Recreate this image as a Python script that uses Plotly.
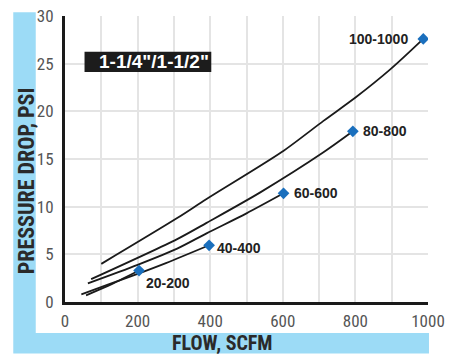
import plotly.graph_objects as go

# flow (SCFM) / pressure drop (PSI), one curve per regulator range
labels = ["100-1000", "80-800", "60-600", "40-400", "20-200"]

flow_100_1000 = [100, 309, 390, 596, 712, 802, 896, 987]
psi_100_1000 = [4.0, 8.8, 10.8, 15.7, 19.0, 21.5, 24.4, 27.6]

flow_80_800 = [72, 309, 390, 538, 712, 793]
psi_80_800 = [2.4, 6.6, 8.3, 11.5, 15.7, 17.9]

flow_60_600 = [63, 200, 309, 390, 500, 602]
psi_60_600 = [1.96, 3.9, 5.6, 7.2, 9.3, 11.4]

flow_40_400 = [45, 120, 200, 278, 397]
psi_40_400 = [0.8, 1.85, 2.95, 4.08, 5.95]

flow_20_200 = [58, 130, 204]
psi_20_200 = [0.7, 1.9, 3.3]

x_ticks = [0, 200, 400, 600, 800, 1000]
y_ticks = [0, 5, 10, 15, 20, 25, 30]

title_text = '1-1/4"/1-1/2"'

curves = [
    (flow_100_1000, psi_100_1000),
    (flow_80_800, psi_80_800),
    (flow_60_600, psi_60_600),
    (flow_40_400, psi_40_400),
    (flow_20_200, psi_20_200),
]
# where the label sits next to its end marker (pixels)
label_pos = [
    dict(xanchor="right", xshift=-13, yshift=0),
    dict(xanchor="left", xshift=8, yshift=0),
    dict(xanchor="left", xshift=8, yshift=0),
    dict(xanchor="left", xshift=6, yshift=-3),
    dict(xanchor="left", xshift=5, yshift=-12),
]

BLUE_BG = "#9cdbf6"
MARKER = "#1a6fbd"
TICK_FONT = "Liberation Sans Narrow, Roboto Condensed, DejaVu Sans Condensed, sans-serif"

fig = go.Figure()

for (xs, ys), name, pos in zip(curves, labels, label_pos):
    fig.add_trace(go.Scatter(x=xs, y=ys, mode="lines",
                             line=dict(color="#1a1a1a", width=1.8, shape="spline", smoothing=0.8),
                             hoverinfo="skip", showlegend=False))
    fig.add_trace(go.Scatter(x=[xs[-1]], y=[ys[-1]], mode="markers",
                             marker=dict(symbol="diamond", size=9, color=MARKER),
                             name=name, showlegend=False))
    fig.add_annotation(x=xs[-1], y=ys[-1], text="<b>%s</b>" % name, showarrow=False,
                       font=dict(family="Liberation Sans, Arial, sans-serif", size=14, color="#222222"),
                       yanchor="middle", **pos)

# blue frame behind the plot, white card on top of it
fig.add_shape(type="rect", xref="paper", yref="paper", x0=-0.1425, x1=1.0027, y0=-0.18, y1=1.0135,
              fillcolor=BLUE_BG, line_width=0, layer="below")
fig.add_shape(type="rect", xref="paper", yref="paper", x0=-0.0806, x1=1.05, y0=-0.108, y1=1.05,
              fillcolor="white", line_width=0, layer="below")

# size label box
fig.add_shape(type="rect", xref="paper", yref="paper", x0=0.0538, x1=0.403, y0=0.804, y1=0.875,
              fillcolor="#1c1c1c", line_width=0)
fig.add_annotation(xref="paper", yref="paper", x=0.2446, y=0.8395, text="<b>%s</b>" % title_text,
                   showarrow=False, font=dict(family="Liberation Sans, Arial, sans-serif", size=19, color="white"),
                   xanchor="center", yanchor="middle")

# axis titles
fig.add_annotation(xref="paper", yref="paper", x=-0.1075, y=0.4257, text="<b>PRESSURE DROP, PSI</b>",
                   textangle=-90, showarrow=False, xanchor="center", yanchor="middle",
                   font=dict(family=TICK_FONT, size=22, color="#2a2a2a"))
fig.add_annotation(xref="paper", yref="paper", x=0.4328, y=-0.143, text="<b>FLOW, SCFM</b>",
                   showarrow=False, xanchor="center", yanchor="middle",
                   font=dict(family=TICK_FONT, size=20, color="#2a2a2a"))

fig.update_layout(
    width=451, height=354,
    margin=dict(l=65, r=14, t=6, b=52),
    paper_bgcolor="white", plot_bgcolor="rgba(0,0,0,0)",
    xaxis=dict(range=[0, 1000], tickvals=x_ticks, showgrid=True, gridcolor="#e4e4e4", gridwidth=1.5,
               minor=dict(dtick=100, showgrid=True, gridcolor="#e4e4e4", gridwidth=1.5),
               showline=True, linecolor="#1a1a1a", linewidth=3, zeroline=False,
               ticks="", ticklabelstandoff=2, ticklabeloverflow="allow",
               tickfont=dict(family=TICK_FONT, size=17, color="#555555")),
    yaxis=dict(range=[0, 30], tickvals=y_ticks, showgrid=True, gridcolor="#e4e4e4", gridwidth=1.5,
               showline=True, linecolor="#1a1a1a", linewidth=3, zeroline=False,
               ticks="", ticklabelstandoff=5, ticklabeloverflow="allow",
               tickfont=dict(family=TICK_FONT, size=17, color="#555555")),
)

# drop the browser's default page margin so the figure sits at the window corner
fig.write_html("out.html", config={"displayModeBar": False},
               post_script="document.body.style.margin='0';")
